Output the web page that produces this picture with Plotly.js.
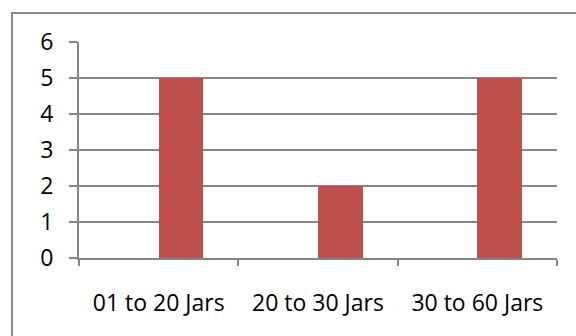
<!DOCTYPE html>
<html>
<head>
<meta charset="utf-8">
<script src="https://cdn.plot.ly/plotly-3.0.1.min.js"></script>
<style>
html,body{margin:0;padding:0;background:#fff;}
#chart{width:576px;height:336px;}
</style>
</head>
<body>
<div id="chart"></div>
<script>
var categories = ["01 to 20 Jars", "20 to 30 Jars", "30 to 60 Jars"];
var values = [5, 2, 5];
var yTicks = [0, 1, 2, 3, 4, 5, 6];

var W = 576, H = 336;
var L = 79, R = 19, T = 42, B = 78;
var pw = W - L - R, ph = H - T - B;
function px2x(p){ return (p - L) / pw; }
function py2y(p){ return (H - B - p) / ph; }

var trace = {
  type: 'bar',
  x: categories,
  y: values,
  offset: 0,
  width: 0.28,
  marker: {color: '#C0504D', line: {width: 0}},
  hoverinfo: 'skip'
};

var gridColor = '#868686';
var layout = {
  width: W, height: H,
  margin: {l: L, r: R, t: T, b: B, pad: 0},
  paper_bgcolor: '#ffffff',
  plot_bgcolor: '#ffffff',
  showlegend: false,
  bargap: 0,
  font: {family: '"Open Sans", "Noto Sans", sans-serif', size: 23, color: '#000000'},
  xaxis: {
    type: 'category',
    range: [-0.5, 2.5],
    tickson: 'boundaries',
    ticks: 'outside',
    ticklen: 6,
    tickwidth: 2,
    tickcolor: gridColor,
    showline: true,
    linecolor: gridColor,
    linewidth: 2,
    showgrid: false,
    zeroline: false,
    ticklabelstandoff: 23,
    tickfont: {size: 23, color: '#000'},
    fixedrange: true
  },
  yaxis: {
    range: [0, 6],
    tickvals: yTicks,
    ticktext: yTicks.map(String),
    ticks: 'outside',
    ticklen: 8,
    tickwidth: 2,
    tickcolor: gridColor,
    showline: true,
    linecolor: gridColor,
    linewidth: 2,
    showgrid: true,
    gridcolor: gridColor,
    gridwidth: 2,
    zeroline: false,
    ticklabelstandoff: 11,
    tickfont: {size: 23, color: '#000'},
    fixedrange: true
  },
  shapes: [
    {type: 'line', xref: 'paper', yref: 'paper',
     x0: px2x(12), x1: px2x(12), y0: py2y(336), y1: py2y(12),
     line: {color: '#8a8a8a', width: 2}},
    {type: 'line', xref: 'paper', yref: 'paper',
     x0: px2x(11), x1: px2x(576), y0: py2y(13), y1: py2y(13),
     line: {color: '#8a8a8a', width: 2}}
  ]
};

Plotly.newPlot('chart', [trace], layout, {staticPlot: true, displayModeBar: false});
</script>
</body>
</html>
